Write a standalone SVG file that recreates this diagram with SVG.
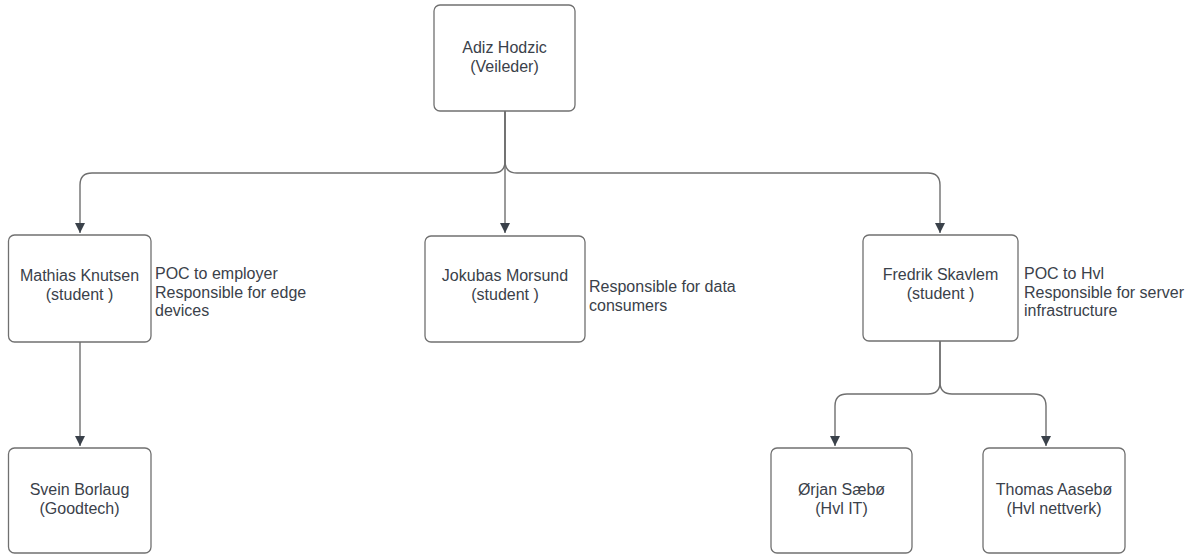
<svg xmlns="http://www.w3.org/2000/svg" width="1191" height="554" viewBox="0 0 1191 554">
  <style>
    .box { fill: #ffffff; stroke: #707070; stroke-width: 1.3; }
    .name { font-family: "Liberation Sans", Arial, sans-serif; font-size: 16px; fill: #3a414a; text-anchor: middle; }
    .note { font-family: "Liberation Sans", Arial, sans-serif; font-size: 16px; fill: #3a414a; }
    .link { fill: none; stroke: #6f6f6f; stroke-width: 1.4; }
  </style>
  <defs>
    <marker id="arrow" viewBox="0 0 10 12" refX="10" refY="6" markerWidth="10" markerHeight="12" markerUnits="userSpaceOnUse" orient="auto">
      <path d="M0,1 L10,6 L0,11 Z" fill="#3a414a"/>
    </marker>
  </defs>
  <rect width="1191" height="554" fill="#ffffff"/>

  <g id="connectors">
    <path class="link" d="M505,111 V233" marker-end="url(#arrow)"/>
    <path class="link" d="M505,111 V161 Q505,173 493,173 H92 Q80,173 80,185 V233" marker-end="url(#arrow)"/>
    <path class="link" d="M505,111 V161 Q505,173 517,173 H928 Q940,173 940,185 V233" marker-end="url(#arrow)"/>
    <path class="link" d="M80,342 V446" marker-end="url(#arrow)"/>
    <path class="link" d="M940,341 V382 Q940,394 928,394 H847 Q835,394 835,406 V446" marker-end="url(#arrow)"/>
    <path class="link" d="M940,341 V382 Q940,394 952,394 H1034 Q1046,394 1046,406 V446" marker-end="url(#arrow)"/>
  </g>

  <g id="adiz">
    <rect class="box" x="434" y="5" width="141" height="106" rx="6"/>
    <text class="name" x="504.5" y="53">Adiz Hodzic</text>
    <text class="name" x="504.5" y="72">(Veileder)</text>
  </g>

  <g id="mathias">
    <rect class="box" x="8.5" y="235" width="142.5" height="107" rx="6"/>
    <text class="name" x="79.5" y="281">Mathias Knutsen</text>
    <text class="name" x="79.5" y="300">(student )</text>
    <text class="note" x="155" y="279">POC to employer</text>
    <text class="note" x="155" y="297.5">Responsible for edge</text>
    <text class="note" x="155" y="316">devices</text>
  </g>

  <g id="jokubas">
    <rect class="box" x="425" y="236" width="160" height="106" rx="6"/>
    <text class="name" x="505" y="281">Jokubas Morsund</text>
    <text class="name" x="505" y="300">(student )</text>
    <text class="note" x="589" y="292">Responsible for data</text>
    <text class="note" x="589" y="310.5">consumers</text>
  </g>

  <g id="fredrik">
    <rect class="box" x="863" y="235" width="155" height="106" rx="6"/>
    <text class="name" x="940.5" y="280">Fredrik Skavlem</text>
    <text class="name" x="940.5" y="299">(student )</text>
    <text class="note" x="1024" y="279">POC to Hvl</text>
    <text class="note" x="1024" y="297.5">Responsible for server</text>
    <text class="note" x="1024" y="316">infrastructure</text>
  </g>

  <g id="svein">
    <rect class="box" x="8.5" y="448" width="142.5" height="105" rx="6"/>
    <text class="name" x="79.5" y="495">Svein Borlaug</text>
    <text class="name" x="79.5" y="514">(Goodtech)</text>
  </g>

  <g id="orjan">
    <rect class="box" x="771" y="448" width="141" height="105" rx="6"/>
    <text class="name" x="841.5" y="495">Ørjan Sæbø</text>
    <text class="name" x="841.5" y="514">(Hvl IT)</text>
  </g>

  <g id="thomas">
    <rect class="box" x="983" y="448" width="142" height="105" rx="6"/>
    <text class="name" x="1054" y="495">Thomas Aasebø</text>
    <text class="name" x="1054" y="514">(Hvl nettverk)</text>
  </g>
</svg>
